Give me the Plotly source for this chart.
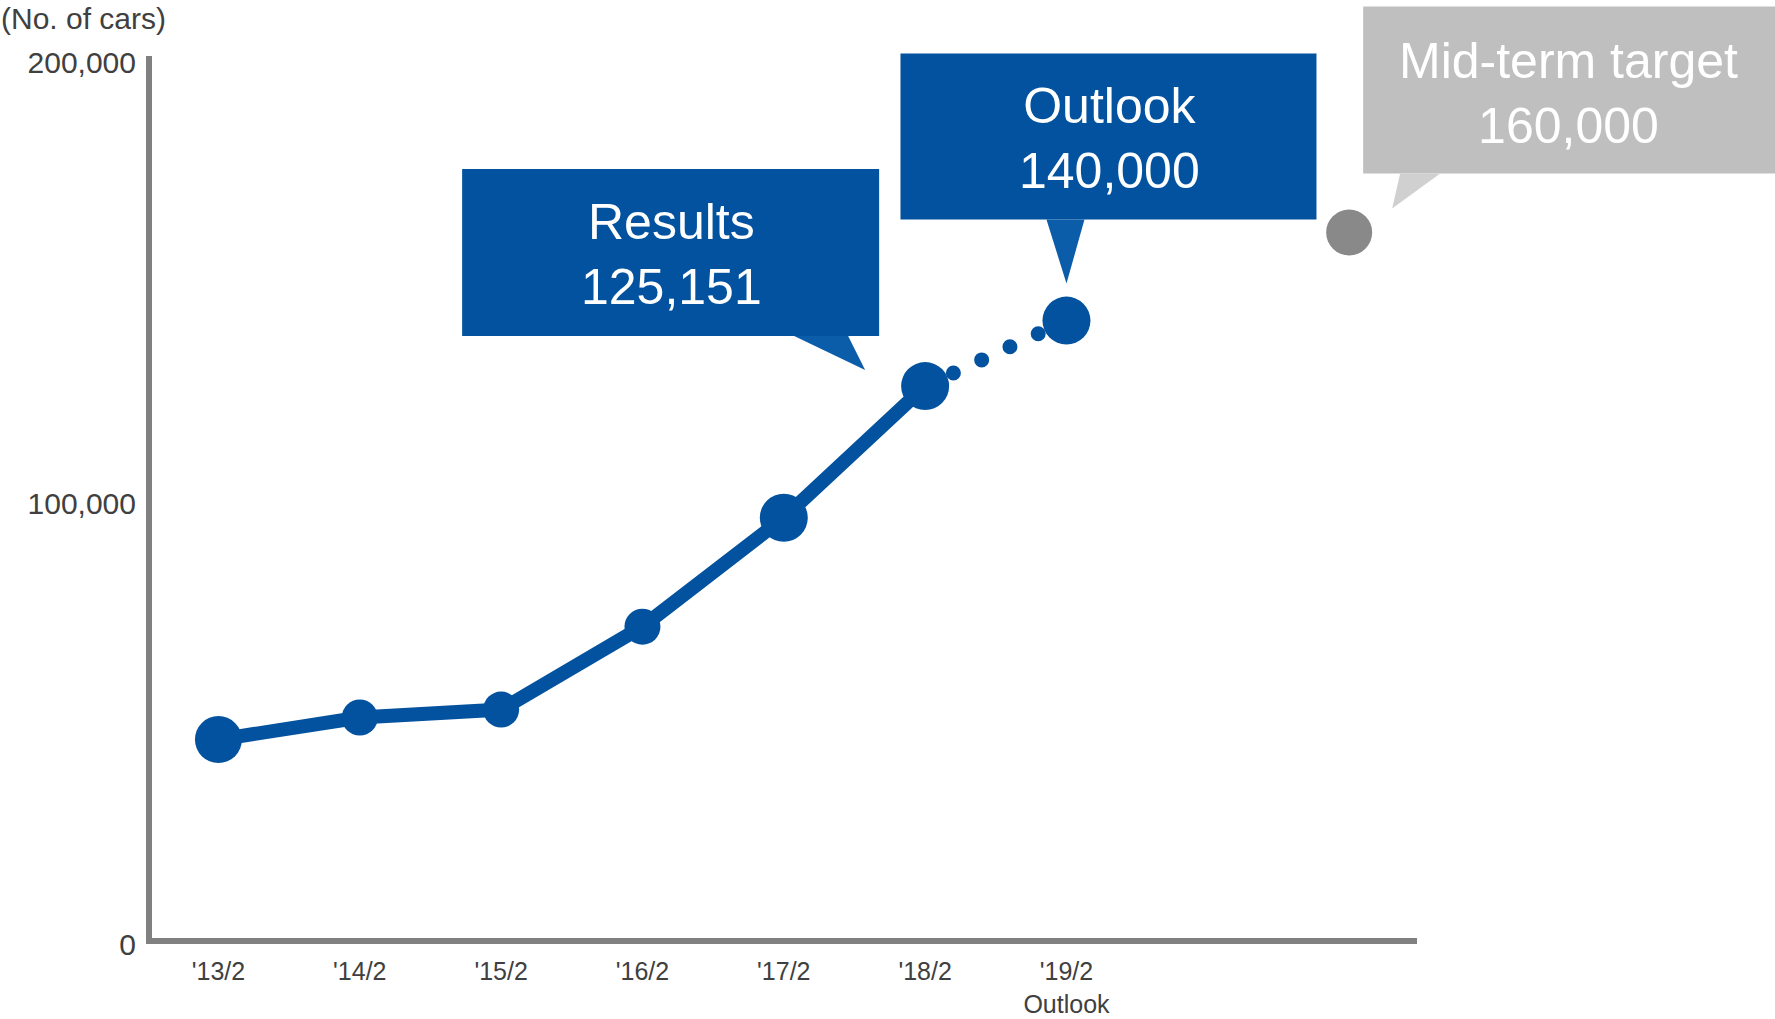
import plotly.graph_objects as go

# Fiscal periods on the horizontal axis (the last two hold the mid-term target)
periods = ["'13/2", "'14/2", "'15/2", "'16/2", "'17/2", "'18/2", "'19/2", "'20/2", "'21/2"]
tick_periods = periods[:7]
tick_text = ["'13/2", "'14/2", "'15/2", "'16/2", "'17/2", "'18/2", "'19/2<br>Outlook"]

# Number of cars: results, outlook and mid-term target
result_periods = ["'13/2", "'14/2", "'15/2", "'16/2", "'17/2", "'18/2"]
result_cars = [45000, 50000, 51800, 70600, 95300, 125151]

outlook_period = "'19/2"
outlook_cars = 140000

target_period = "'21/2"
target_cars = 160000

y_ticks = [0, 100000, 200000]

# Axis ranges
X_RANGE = [-0.47, 8.48]
Y_RANGE = [0, 200000]

# Styling
BLUE = "#02529F"
BLUE_TIP = "#0B5CA9"
GREY_DOT = "#898989"
GREY_BOX = "#BFBFBF"
GREY_TIP = "#D0D0D0"
AXIS = "#808080"
TEXT = "#404040"
FONT = "Liberation Sans, Arial, sans-serif"
result_sizes = [47, 36, 36, 36, 48, 48]

fig = go.Figure()

# Dotted link from the latest result to the outlook
fig.add_trace(go.Scatter(
    x=[result_periods[-1], outlook_period], y=[result_cars[-1], outlook_cars],
    mode="lines", line=dict(color=BLUE, width=15, dash="15px,16px"),
    hoverinfo="skip",
))
# Results line with markers
fig.add_trace(go.Scatter(
    x=result_periods, y=result_cars, mode="lines+markers",
    line=dict(color=BLUE, width=14),
    marker=dict(color=BLUE, size=result_sizes, opacity=1, line=dict(width=0)),
))
# Outlook point
fig.add_trace(go.Scatter(
    x=[outlook_period], y=[outlook_cars], mode="markers",
    marker=dict(color=BLUE, size=48, opacity=1, line=dict(width=0)),
))
# Mid-term target point
fig.add_trace(go.Scatter(
    x=[target_period], y=[target_cars], mode="markers",
    marker=dict(color=GREY_DOT, size=46, opacity=1, line=dict(width=0)),
))


def to_paper(period, value):
    """Paper-space position of a data point (so callouts are not clipped)."""
    xi = periods.index(period)
    px = (xi - X_RANGE[0]) / (X_RANGE[1] - X_RANGE[0])
    py = (value - Y_RANGE[0]) / (Y_RANGE[1] - Y_RANGE[0])
    return px, py


def add_callout(period, value, box, tip, text_shift, fill, tip_fill, text):
    """Speech-bubble label anchored to a data point; offsets are pixels (up = +)."""
    px, py = to_paper(period, value)
    common = dict(xref="paper", yref="paper", xsizemode="pixel", ysizemode="pixel",
                  xanchor=px, yanchor=py, line=dict(width=0), layer="above")
    x0, x1, ytop, ybot = box
    fig.add_shape(type="rect", x0=x0, x1=x1, y0=ybot, y1=ytop,
                  fillcolor=fill, **common)
    (ax, ay), (bx, by), (cx, cy) = tip
    fig.add_shape(type="path", path=f"M{ax},{ay} L{bx},{by} L{cx},{cy} Z",
                  fillcolor=tip_fill, **common)
    fig.add_annotation(x=px, y=py, xref="paper", yref="paper",
                       xshift=text_shift[0], yshift=text_shift[1],
                       text=text, showarrow=False, xanchor="center", yanchor="middle",
                       align="center", font=dict(family=FONT, size=50, color="white"))


add_callout(result_periods[-1], result_cars[-1],
            box=(-463, -46, 217, 50),
            tip=((-131, 50), (-77, 50), (-60, 16)),
            text_shift=(-254, 132), fill=BLUE, tip_fill=BLUE_TIP,
            text=f"Results<br>{result_cars[-1]:,}")

add_callout(outlook_period, outlook_cars,
            box=(-166, 250, 267, 101),
            tip=((-20, 101), (18, 101), (0, 37)),
            text_shift=(43, 182), fill=BLUE, tip_fill=BLUE_TIP,
            text=f"Outlook<br>{outlook_cars:,}")

add_callout(target_period, target_cars,
            box=(14, 432, 226, 59),
            tip=((51, 59), (91, 59), (43, 24)),
            text_shift=(219, 139), fill=GREY_BOX, tip_fill=GREY_TIP,
            text=f"Mid-term target<br>{target_cars:,}")

# Unit label
fig.add_annotation(x=0, y=1, xref="paper", yref="paper", xshift=-153, yshift=38,
                   text="(No. of cars)", showarrow=False, xanchor="left", yanchor="middle",
                   font=dict(family=FONT, size=30, color=TEXT))

fig.update_xaxes(
    type="category", categoryorder="array", categoryarray=periods,
    range=X_RANGE, tickvals=tick_periods, ticktext=tick_text, automargin=False,
    showline=True, linecolor=AXIS, linewidth=6, showgrid=False, zeroline=False,
    ticks="outside", ticklen=6, tickcolor="rgba(0,0,0,0)",
    tickfont=dict(family=FONT, size=25, color=TEXT),
)
fig.update_yaxes(
    range=Y_RANGE, tickvals=y_ticks, tickformat=",", automargin=False,
    showline=True, linecolor=AXIS, linewidth=6, showgrid=False, zeroline=False,
    ticks="outside", ticklen=4, tickcolor="rgba(0,0,0,0)", ticklabelshift=6,
    tickfont=dict(family=FONT, size=30, color=TEXT),
)
fig.update_layout(
    width=1775, height=1019, showlegend=False,
    margin=dict(l=152, r=358, t=56, b=81),
    paper_bgcolor="white", plot_bgcolor="white",
    font=dict(family=FONT, color=TEXT),
)

# Round dots for the outlook link: zero-length dashes with round caps
post = """
var gd = document.getElementById('{plot_id}');
var path = gd.querySelector('.scatterlayer .trace path.js-line');
if (path) {
  var step = path.getTotalLength() / 5;
  path.style.strokeLinecap = 'round';
  path.style.strokeDasharray = '0px,' + step + 'px';
}
"""
fig.write_html("out.html", post_script=post)
